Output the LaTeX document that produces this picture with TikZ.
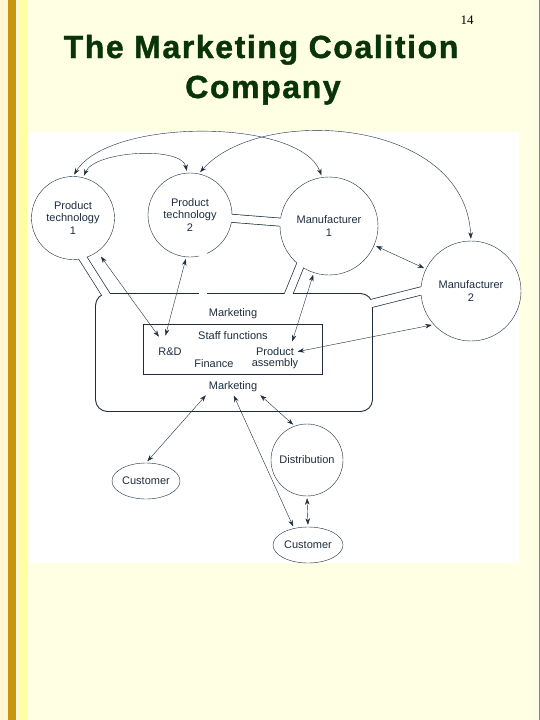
\documentclass[tikz,border=0pt]{standalone}
\usepackage{fontspec}
\setmainfont{Liberation Sans}
\newfontfamily\titlefont[LetterSpace=5, BoldFeatures={FakeBold=1.2}]{Liberation Sans}
\newfontfamily\numfont{Liberation Serif}
\usetikzlibrary{arrows.meta,shapes.geometric}
\definecolor{ink}{RGB}{30,45,62}
\definecolor{slide}{RGB}{255,255,228}
\definecolor{gold}{RGB}{200,149,14}
\definecolor{paleband}{RGB}{255,248,208}
\definecolor{yellowband}{RGB}{255,255,160}
\definecolor{edgeteal}{RGB}{80,150,150}
\definecolor{titlegreen}{RGB}{8,52,8}
\pgfdeclarelayer{background}
\pgfsetlayers{background,main}

\begin{document}
\begin{tikzpicture}[x=1pt, y=-1pt, line width=0.7pt,
		font=\fontsize{11}{12.5}\selectfont,
		bubble/.style={draw=ink, circle, fill=white, text=ink, align=center, inner sep=0pt},
		oval/.style={draw=ink, ellipse, fill=white, text=ink, inner sep=0pt},
		lbl/.style={text=ink, inner sep=1.5pt},
		arr/.style={draw=ink, {Stealth[length=6.5pt,width=4.5pt]}-{Stealth[length=6.5pt,width=4.5pt]}, shorten <=2pt, shorten >=2pt},
		pipeout/.style={draw=ink, line width=8.8pt, shorten <=-4pt, shorten >=-4pt},
		pipein/.style={draw=white, line width=7.4pt, shorten <=-4pt, shorten >=-4pt}]

		\useasboundingbox (0,0) rectangle (540,720);

		\begin{pgfonlayer}{background}
			\fill[slide] (0,0) rectangle (540,720);
			\fill[paleband] (0,0) rectangle (8,720);
			\fill[gold] (8,0) rectangle (16,720);
			\fill[paleband] (16,0) rectangle (19,720);
			\fill[yellowband] (19,0) rectangle (27,720);
			\fill[white] (30,132) rectangle (519,563);
			\draw[edgeteal, line width=1pt] (539,0) -- (539,720);
		\end{pgfonlayer}

		\node[font=\numfont\fontsize{13}{15}\selectfont] (pgno) at (467,20) {14};
		\node[anchor=base, text=titlegreen, font=\titlefont\fontsize{32}{38}\selectfont\bfseries] (title1) at (261,58) {The Marketing Coalition};
		\node[anchor=base, text=titlegreen, font=\titlefont\fontsize{32}{38}\selectfont\bfseries] (title2) at (263,98) {Company};

		\node [bubble, minimum size=83pt] (pt1) at (73,218) {Product\\technology\\1};
		\node [bubble, minimum size=84pt] (pt2) at (190,215) {Product\\technology\\2};
		\node [bubble, minimum size=98pt] (mfr1) at (329,226) {Manufacturer\\1};
		\node [bubble, minimum size=100pt] (mfr2) at (471,291) {Manufacturer\\2};
		\node [bubble, minimum size=72pt] (dist) at (307,460) {Distribution};
		\node [oval, minimum width=68pt, minimum height=36pt] (cust1) at (146,481) {Customer};
		\node [oval, minimum width=70pt, minimum height=36pt] (cust2) at (308,545) {Customer};

		\node [draw=ink, line width=0.9pt, fill=white, rounded corners=12pt, minimum width=277pt, minimum height=118pt] (firm) at (234,352.5) {};
		\node [draw=ink, minimum width=179pt, minimum height=50pt] (staff) at (233,349.5) {};
		\node [lbl] (mkt1) at (233,314) {Marketing};
		\node [lbl] (sf) at (233,336) {Staff functions};
		\node [lbl] (rd) at (170,352) {R\&D};
		\node [lbl] (prod) at (275,352) {Product};
		\node [lbl] (fin) at (214,364) {Finance};
		\node [lbl] (asm) at (275,364) {assembly};
		\node [lbl] (mkt2) at (233,387) {Marketing};

		\begin{pgfonlayer}{background}
			\draw[pipeout] (pt1.-76) -- ([xshift=10pt]firm.north west);
			\draw[pipeout] (pt2.-72) -- (pt2.-72 |- firm.north);
			\draw[pipeout] (pt2) -- (mfr1);
			\draw[pipeout] (mfr1.234) -- ([xshift=55pt]firm.north);
			\draw[pipeout] (mfr2.west) -- ([yshift=-10pt]firm.north east);
		\end{pgfonlayer}
		\draw[pipein] (pt1.-76) -- ([xshift=10pt]firm.north west);
		\draw[pipein] (pt2.-72) -- (pt2.-72 |- firm.north);
		\draw[pipein] (pt2) -- (mfr1);
		\draw[pipein] (mfr1.234) -- ([xshift=55pt]firm.north);
		\draw[pipein] (mfr2.west) -- ([yshift=-10pt]firm.north east);

		\draw[arr] (pt1.north) .. controls +(37,-59) and +(-22,-59) .. (mfr1.98);
		\draw[arr] (pt1.76) .. controls +(12,-27) and +(-5,-27) .. (pt2.94);
		\draw[arr] (pt2.78) .. controls +(61,-69) and +(-6,-124) .. (mfr2.north);
		\draw[arr] (mfr1.-23) -- (mfr2.154);
		\draw[arr, shorten <=6pt, shorten >=12pt] (pt1) -- (rd);
		\draw[arr] (pt2.-95) -- ([xshift=-5pt,yshift=9pt]rd.north);
		\draw[arr] (mfr1.-108) -- ([xshift=-4pt,yshift=3pt]prod.north east);
		\draw[arr] (mfr2.222) -- (prod.east);
		\draw[arr] (mkt2.south west) -- (cust1.north);
		\draw[arr] (mkt2.south) -- (cust2.130);
		\draw[arr] (mkt2.south east) -- (dist.110);
		\draw[arr] (dist.south) -- (cust2.north);

		\end{tikzpicture}
\end{document}
